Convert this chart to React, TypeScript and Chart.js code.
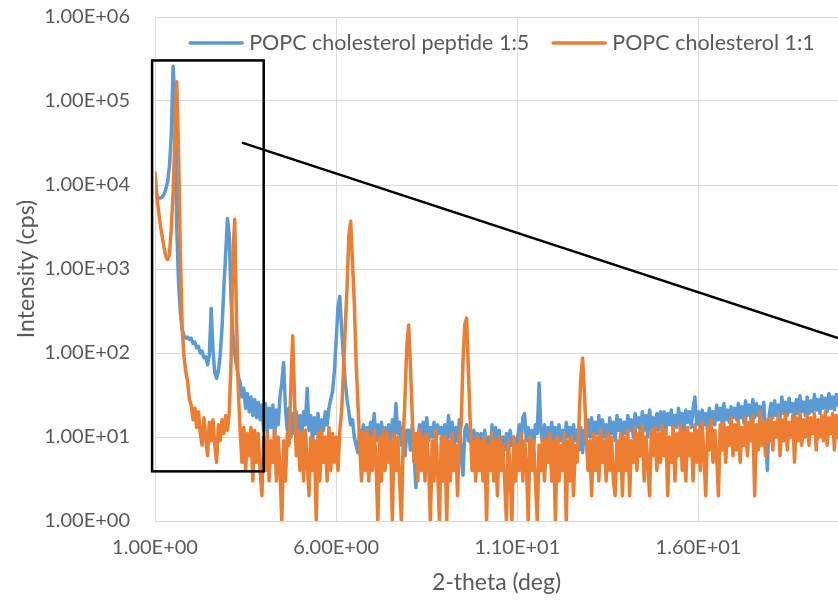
import { useEffect, useRef } from "react";
import { Chart, registerables } from "chart.js";

Chart.register(...registerables);

// 2-theta scan grid (deg)
const X_START = 1.0;
const X_STEP = 0.05;
const X_MIN = 1;
const X_MAX = 19.85;
const X_TICKS = [1, 6, 11, 16];
const X_TICK_LABELS = ["1.00E+00", "6.00E+00", "1.10E+01", "1.60E+01"];
const Y_TICKS = [1, 10, 100, 1000, 10000, 100000, 1000000];
const Y_TICK_LABELS = ["1.00E+00", "1.00E+01", "1.00E+02", "1.00E+03", "1.00E+04", "1.00E+05", "1.00E+06"];

const SERIES_LABELS = ["POPC cholesterol peptide 1:5", "POPC cholesterol 1:1"];
const SERIES_COLORS = ["#5B9BD5", "#ED7D31"];

// Intensity (cps), one value every 0.05 deg from 1.00 deg
const PEPTIDE_1_5 = [
  9500, 7500, 7000, 7000, 7200, 7800, 9000, 11000, 17000, 40000, 260000, 90000, 3000, 700, 300, 190, 160, 150, 155, 145,
  150, 130, 135, 115, 120, 100, 105, 88, 90, 72, 95, 340, 110, 58, 50, 62, 95, 200, 600, 1500,
  4000, 2500, 420, 170, 100, 70, 52, 45, 30, 38, 22, 33, 20, 30, 18, 28, 17, 26, 16, 24,
  12, 25, 11, 22, 13, 24, 10, 21, 14, 30, 45, 77, 22, 12, 22, 10, 19, 11, 20, 9,
  18, 10, 20, 14, 38, 12, 18, 9, 17, 11, 19, 10, 16, 12, 20, 14, 22, 28, 35, 60,
  140, 350, 470, 200, 90, 45, 28, 20, 14, 16, 10, 8, 6.5, 12, 9, 14, 8, 13, 9, 15,
  10, 19, 9, 14, 8, 15, 10, 13, 7, 14, 9, 16, 10, 25, 11, 15, 8, 13, 6, 12,
  12, 7, 14, 6, 2.5, 9, 14, 9, 15, 10, 17, 9, 13, 10, 15, 8, 14, 11, 13, 9,
  14, 8, 18, 10, 15, 7, 13, 9, 16, 6, 3.5, 12, 14, 9, 13, 7, 12, 8, 11, 6,
  11, 6, 12, 7, 10, 5, 14, 8, 13, 7, 12, 5, 10, 7, 11, 6, 12, 8, 10, 6,
  9, 14, 8, 17, 19, 9, 13, 7, 12, 8, 14, 11, 44, 12, 8, 14, 7, 13, 9, 15,
  8, 13, 6, 14, 9, 12, 7, 15, 10, 13, 6, 14, 9, 12, 7, 13, 6.5, 12, 10, 16,
  10, 17, 9, 15, 11, 18, 8, 16, 10, 14, 7, 17, 11, 15, 9, 18, 12, 16, 10, 15,
  11, 18, 12, 16, 10, 19, 13, 17, 11, 20, 12, 18, 10, 21, 13, 17, 11, 19, 12, 20,
  13, 20, 12, 19, 14, 21, 12, 18, 13, 22, 14, 19, 12, 21, 15, 20, 13, 22, 30, 14,
  20, 13, 21, 14, 19, 12, 22, 15, 20, 14, 24, 16, 22, 15, 25, 16, 21, 15, 23, 17,
  22, 16, 25, 17, 23, 15, 27, 18, 24, 16, 28, 17, 25, 18, 23, 16, 26, 12, 4, 18,
  25, 17, 27, 18, 24, 17, 30, 19, 26, 18, 29, 20, 25, 17, 28, 19, 31, 20, 26, 18,
  30, 19, 27, 20, 32, 21, 28, 19, 31, 22, 29, 20, 33, 22, 30, 21, 32, 24,
];

const CHOLESTEROL_1_1 = [
  14000, 7500, 4800, 3300, 2400, 1800, 1400, 1300, 1500, 3000, 8000, 40000, 170000, 25000, 1500, 200, 90, 60, 45, 28,
  24, 16, 22, 13, 20, 11, 8, 17, 10, 6, 15, 9, 16, 8, 5, 14, 9, 16, 11, 18,
  12, 20, 80, 1500, 3900, 250, 35, 12, 5, 13, 4, 11, 6, 13, 3, 12, 5, 11, 4, 2,
  10, 4, 11, 3, 9, 5, 12, 3, 10, 4, 1, 9, 3, 11, 8, 40, 160, 30, 6, 12,
  4, 11, 3, 12, 5, 2, 10, 4, 9, 1, 11, 3, 12, 5, 10, 3, 13, 4, 11, 5,
  10, 4, 12, 20, 60, 200, 600, 2500, 3700, 1200, 400, 80, 25, 8, 3, 11, 4, 12, 3, 10,
  4, 12, 5, 1, 10, 3, 12, 4, 11, 5, 9, 1, 11, 4, 10, 3, 1, 9, 30, 120,
  215, 70, 18, 5, 11, 3, 12, 4, 10, 3, 11, 5, 1, 9, 3, 12, 4, 1, 10, 3,
  10, 1, 9, 3, 11, 4, 8, 2, 10, 14, 80, 220, 260, 60, 15, 4, 9, 3, 10, 4,
  9, 3, 10, 1, 8, 4, 11, 3, 9, 2, 10, 4, 8, 3, 1, 9, 4, 1, 10, 3,
  8, 4, 11, 3, 9, 5, 1, 10, 4, 9, 3, 1, 8, 4, 10, 3, 9, 5, 11, 3,
  9, 1, 10, 3, 8, 4, 11, 1, 9, 3, 10, 2, 8, 5, 14, 50, 87, 35, 10, 4,
  9, 2, 11, 4, 10, 3, 12, 5, 9, 3, 11, 4, 10, 3, 2, 9, 4, 11, 2, 10,
  4, 12, 2, 9, 5, 13, 4, 11, 6, 14, 3, 10, 5, 2, 12, 6, 13, 4, 11, 5,
  14, 6, 12, 2, 10, 5, 13, 3, 11, 6, 14, 4, 12, 3, 13, 6, 11, 3, 14, 5,
  12, 4, 15, 6, 2, 13, 7, 16, 5, 12, 6, 2, 14, 7, 15, 5, 13, 8, 17, 6,
  14, 7, 16, 5, 13, 8, 17, 6, 15, 9, 18, 2, 14, 7, 20, 8, 15, 6, 16, 9,
  17, 7, 15, 10, 18, 6, 16, 9, 19, 7, 15, 10, 18, 5, 17, 9, 19, 8, 16, 10,
  18, 8, 17, 11, 19, 7, 16, 10, 18, 9, 20, 8, 17, 11, 19, 7, 18, 10,
];

// Drawn annotations, in data coordinates (2-theta, intensity)
const BOX_X = [0.92, 4.0];
const BOX_Y = [3.9, 304000];
const POINTER_X = [3.4, 19.85];
const POINTER_Y = [31900, 151];

const FONT = "Lato";
const TEXT_COLOR = "#595959";
const GRID_COLOR = "#D9D9D9";

const toPoints = (vals: number[]) =>
  vals.map((y, i) => ({ x: +(X_START + i * X_STEP).toFixed(2), y }));

const legendPlugin = {
  id: "inlineLegend",
  afterDraw(chart: any) {
    const { ctx, chartArea } = chart;
    ctx.save();
    ctx.font = `21.5px ${FONT}`;
    const items = chart.data.datasets.map((ds: any) => ({
      label: ds.label as string,
      color: ds.borderColor as string,
      w: ctx.measureText(ds.label).width,
    }));
    const lineLen = 52;
    const gapText = 7;
    const gapItems = 24;
    const total =
      items.reduce((s: number, it: any) => s + lineLen + gapText + it.w, 0) + gapItems * (items.length - 1);
    let x = (chartArea.left + chartArea.right) / 2 - total / 2 + 6;
    const y = chartArea.top + 26;
    ctx.textBaseline = "middle";
    ctx.textAlign = "left";
    for (const it of items) {
      ctx.strokeStyle = it.color;
      ctx.lineWidth = 3.5;
      ctx.lineCap = "round";
      ctx.beginPath();
      ctx.moveTo(x, y);
      ctx.lineTo(x + lineLen, y);
      ctx.stroke();
      x += lineLen + gapText;
      ctx.fillStyle = TEXT_COLOR;
      ctx.fillText(it.label, x, y);
      x += it.w + gapItems;
    }
    ctx.restore();
  },
};

const annotationPlugin = {
  id: "boxAndPointer",
  afterDatasetsDraw(chart: any) {
    const { ctx } = chart;
    const xs = chart.scales.x;
    const ys = chart.scales.y;
    ctx.save();
    ctx.strokeStyle = "#000000";
    ctx.lineWidth = 2.5;
    const bx0 = xs.getPixelForValue(BOX_X[0]);
    const bx1 = xs.getPixelForValue(BOX_X[1]);
    const by0 = ys.getPixelForValue(BOX_Y[1]);
    const by1 = ys.getPixelForValue(BOX_Y[0]);
    ctx.strokeRect(bx0, by0, bx1 - bx0, by1 - by0);
    ctx.beginPath();
    ctx.moveTo(xs.getPixelForValue(POINTER_X[0]), ys.getPixelForValue(POINTER_Y[0]));
    ctx.lineTo(xs.getPixelForValue(POINTER_X[1]), ys.getPixelForValue(POINTER_Y[1]));
    ctx.stroke();
    ctx.restore();
  },
};

export default function App() {
  const ref = useRef<HTMLCanvasElement | null>(null);

  useEffect(() => {
    if (!ref.current) return;
    const chart = new Chart(ref.current, {
      type: "line",
      data: {
        datasets: [
          {
            label: SERIES_LABELS[0],
            data: toPoints(PEPTIDE_1_5),
            borderColor: SERIES_COLORS[0],
            backgroundColor: SERIES_COLORS[0],
            borderWidth: 3.5,
            pointRadius: 0,
            borderJoinStyle: "round",
            borderCapStyle: "round",
            tension: 0,
            order: 1,
          },
          {
            label: SERIES_LABELS[1],
            data: toPoints(CHOLESTEROL_1_1),
            borderColor: SERIES_COLORS[1],
            backgroundColor: SERIES_COLORS[1],
            borderWidth: 3.5,
            pointRadius: 0,
            borderJoinStyle: "round",
            borderCapStyle: "round",
            tension: 0,
            order: 0,
          },
        ],
      },
      options: {
        responsive: false,
        animation: false,
        parsing: false as any,
        normalized: true,
        layout: { padding: { top: 17, right: 0, left: 0, bottom: 0 } },
        plugins: {
          legend: { display: false },
          tooltip: { enabled: false },
        },
        scales: {
          x: {
            type: "linear",
            min: X_MIN,
            max: X_MAX,
            afterBuildTicks: (scale: any) => {
              scale.ticks = X_TICKS.map((v) => ({ value: v }));
            },
            afterFit: (scale: any) => {
              scale.height = 81;
            },
            ticks: {
              autoSkip: false,
              maxRotation: 0,
              padding: 0,
              color: TEXT_COLOR,
              font: { family: FONT, size: 20 },
              callback: (v: any) => {
                const i = X_TICKS.indexOf(Number(v));
                return i >= 0 ? X_TICK_LABELS[i] : "";
              },
            },
            grid: { color: GRID_COLOR, lineWidth: 1, drawTicks: true, tickLength: 15, tickColor: "rgba(0,0,0,0)" },
            border: { color: GRID_COLOR, width: 1 },
            title: {
              display: true,
              text: "2-theta (deg)",
              color: TEXT_COLOR,
              font: { family: FONT, size: 23 },
              padding: { top: 0, bottom: 6 },
            },
          },
          y: {
            type: "logarithmic",
            min: 1,
            max: 1000000,
            afterBuildTicks: (scale: any) => {
              scale.ticks = Y_TICKS.map((v) => ({ value: v }));
            },
            afterFit: (scale: any) => {
              scale.width = 155;
            },
            ticks: {
              autoSkip: false,
              padding: 0,
              color: TEXT_COLOR,
              font: { family: FONT, size: 20 },
              callback: (v: any) => {
                const i = Y_TICKS.indexOf(Number(v));
                return i >= 0 ? Y_TICK_LABELS[i] : "";
              },
            },
            grid: { color: GRID_COLOR, lineWidth: 1, drawTicks: true, tickLength: 25, tickColor: "rgba(0,0,0,0)" },
            border: { color: GRID_COLOR, width: 1 },
            title: {
              display: true,
              text: "Intensity (cps)",
              color: TEXT_COLOR,
              font: { family: FONT, size: 23 },
              padding: { top: 13, bottom: 0 },
            },
          },
        },
      },
      plugins: [annotationPlugin, legendPlugin],
    });
    return () => chart.destroy();
  }, []);

  return (
    <div style={{ position: "fixed", left: 0, top: 0, width: 838, height: 602, background: "#ffffff" }}>
      <canvas ref={ref} width={838} height={602} />
    </div>
  );
}
